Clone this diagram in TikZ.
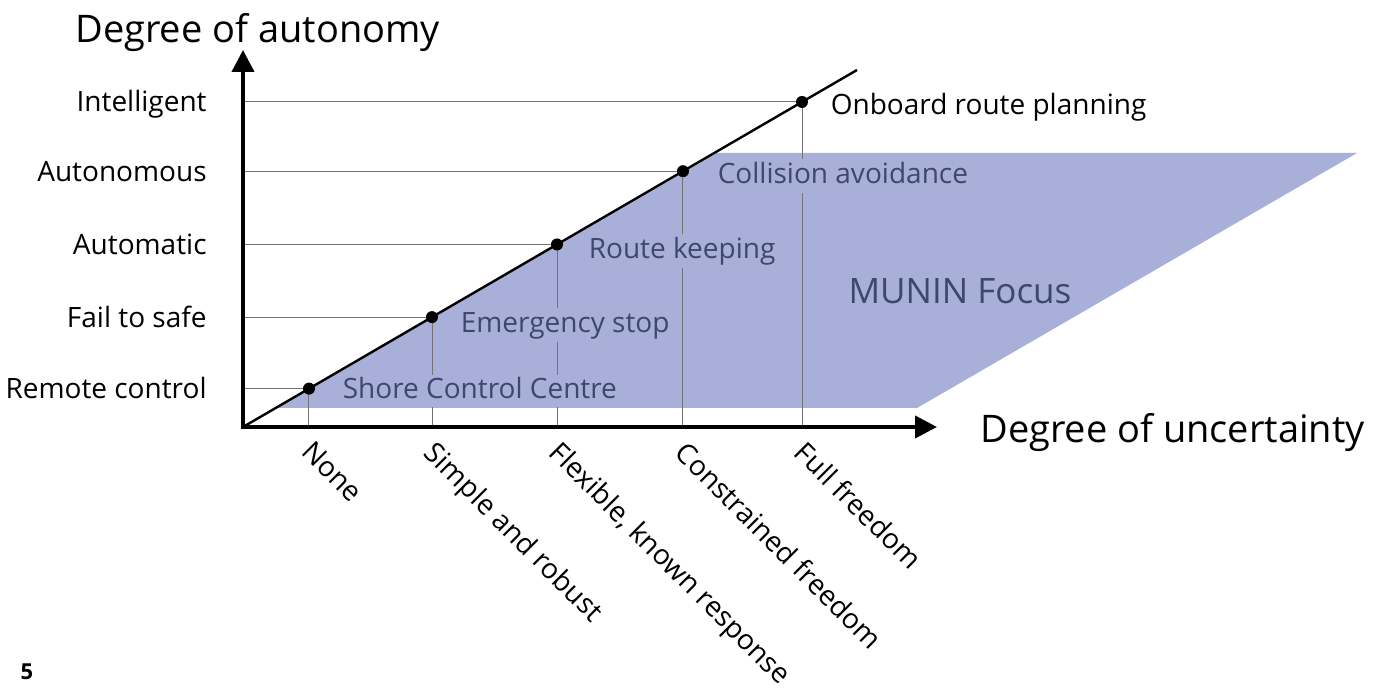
\documentclass[tikz,border=0pt]{standalone}
\usepackage{fontspec}
\setmainfont{Open Sans}
\usetikzlibrary{arrows.meta,positioning,calc}
\definecolor{muninfill}{RGB}{168,175,217}
\definecolor{munintext}{RGB}{60,72,108}
\tikzset{
    dot/.style={circle,fill=black,inner sep=0pt,minimum size=6pt},
    guide/.style={black!55,line width=0.5pt},
    level/.style={anchor=base east,inner sep=0pt,font=\fontsize{14}{16}\selectfont},
    freedom/.style={anchor=north west,rotate=-45,inner sep=0pt,font=\fontsize{14}{16}\selectfont},
    function/.style={anchor=west,fill=muninfill,text=munintext,inner sep=1pt,
        text height=11pt,text depth=4pt,font=\fontsize{14}{16}\selectfont},
    axislabel/.style={anchor=base west,inner sep=0pt,font=\fontsize{19}{22}\selectfont}
}
\begin{document}
\begin{tikzpicture}[x=0.5pt,y=-0.5pt]
                \useasboundingbox (0,0) rectangle (1387,688);
                % MUNIN focus area
                \fill[muninfill] (276,408) -- (717,153) -- (1357,153) -- (917,408) -- cycle;
                \coordinate (o) at (243,427);
                \coordinate (end) at (857,70);
                \foreach \n/\x in {1/309,2/432,3/557,4/683,5/802}{
                    \coordinate (p\n) at ($(o)!{(\x-243)/614}!(end)$);
                    \draw[guide] (o |- p\n) -- (p\n);
                    \draw[guide] (p\n) -- (p\n |- o);
                }
                \draw[line width=1.2pt] (o) -- (end);
                \foreach \n in {1,...,5}{
                    \node[dot] (d\n) at (p\n) {};
                }
                % levels of autonomy
                \foreach \n/\t in {1/Remote control,2/Fail to safe,3/Automatic,4/Autonomous,5/Intelligent}{
                    \node[level] (l\n) at ([xshift=-18pt,yshift=-5pt]o |- p\n) {\t};
                }
                % degrees of freedom
                \foreach \n/\t in {1/None,2/Simple and robust,3/{Flexible, known response},4/Constrained freedom,5/Full freedom}{
                    \node[freedom] (f\n) at ([xshift=3pt,yshift=-6pt]p\n |- o) {\t};
                }
                % functions
                \node[function,text depth=3pt,right=12.5pt of d1,yshift=-1pt] (shore) {Shore Control Centre};
                \node[function,right=10pt of d2,yshift=-4pt] (stop) {Emergency stop};
                \node[function,right=11.5pt of d3,yshift=-3.5pt] (route) {Route keeping};
                \node[function,right=13pt of d4,yshift=-2.5pt] (colav) {Collision avoidance};
                \node[function,fill=none,text=black,right=10pt of d5,yshift=-3pt] (plan) {Onboard route planning};
                \node[text=munintext,font=\fontsize{17.5}{20}\selectfont] (focus) at (960,291) {MUNIN Focus};
                % axes
                \draw[line width=2pt,{Triangle[length=11pt,width=11pt]}-{Triangle[length=11pt,width=11pt]}]
                    (243,50) -- (o) -- (937,427);
                \node[axislabel] (ylab) at (75,43) {Degree of autonomy};
                \node[axislabel] (xlab) at (980,443) {Degree of uncertainty};
                \node[font=\bfseries\fontsize{11}{13}\selectfont] (page) at (27,672) {5};
            \end{tikzpicture}
\end{document}
